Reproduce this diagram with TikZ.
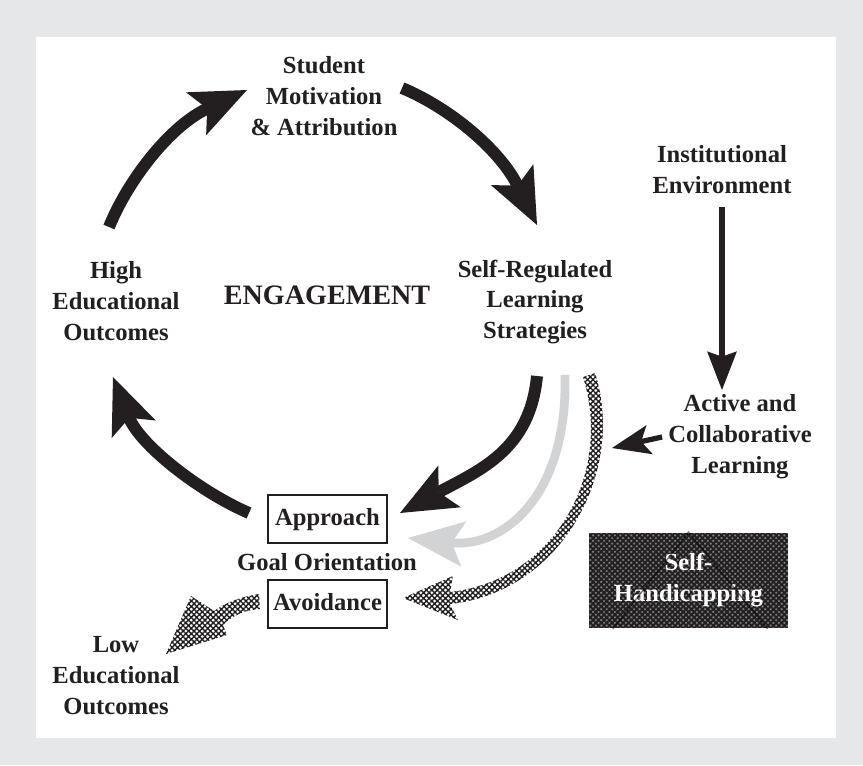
\documentclass[tikz,border=0pt]{standalone}
\usepackage{fontspec}
\setmainfont{Liberation Serif}
\usetikzlibrary{arrows.meta,patterns.meta}
\definecolor{ink}{HTML}{231F20}
\definecolor{panel}{HTML}{E6E7E8}
\definecolor{lightarrow}{HTML}{D1D3D4}
\tikzset{
  lbl/.style={font=\fontsize{14}{17.6}\selectfont\bfseries, text=ink, align=center},
  goalbox/.style={lbl, draw=ink, line width=1.1pt, minimum width=68pt, minimum height=27pt,
    text height=10pt, text depth=3pt, inner sep=0pt},
  selfbox/.style={lbl, text=white, minimum width=113pt, minimum height=54pt, inner sep=0pt,
    preaction={fill=black!50}, pattern={Hatch[angle=45,distance=2.2pt,line width=1.1pt]},
    pattern color=ink},
  bigarrow/.style={ink, line width=6.8pt, -{Stealth[length=32pt,width=27pt,inset=7pt,line width=0pt]}},
  greyarrow/.style={lightarrow, line width=5pt, -{Stealth[length=32pt,width=26pt,inset=7pt,line width=0pt]}},
  vertarrow/.style={ink, line width=3.2pt, -{Stealth[length=22pt,width=17pt,inset=3pt,line width=0pt]}},
  shortarrow/.style={ink, line width=3pt, -{Stealth[length=22pt,width=17pt,inset=5pt,line width=0pt]}},
  hatchfill/.style={pattern={Hatch[angle=45,distance=2.2pt,line width=0.8pt]}, pattern color=ink},
}
\begin{document}
\begin{tikzpicture}[x=0.02cm, y=-0.02cm]
\useasboundingbox (0,0) rectangle (863,765);
\fill[panel] (0,0) rectangle (863,765);
\fill[white] (36,37) rectangle (836,738);

\node[lbl] (smat) at (324,96) {Student\\Motivation\\\& Attribution};
\node[lbl] (inst) at (722,170) {Institutional\\Environment};
\node[lbl] (srl) at (535,302) {Self-Regulated\\Learning\\Strategies};
\node[lbl] (high) at (116,301) {High\\Educational\\Outcomes};
\node[lbl, font=\fontsize{16}{19}\selectfont\bfseries] (eng) at (327,295) {ENGAGEMENT};
\node[lbl] (acl) at (740,437) {Active and\\Collaborative\\Learning};
\node[goalbox] (appr) at (327.5,519) {Approach};
\node[lbl] (goal) at (327,562) {Goal Orientation};
\node[goalbox] (avoid) at (327.5,604) {Avoidance};
\node[lbl] (low) at (116,676) {Low\\Educational\\Outcomes};
\node[selfbox] (selfh) at (688.5,580.5) {Self-\\Handicapping};
\draw[black, opacity=0.5, line width=0.8pt] ([xshift=14pt]selfh.south west) -- (selfh.north)
  -- ([xshift=-12pt]selfh.south east);

\coordinate (hi2sm) at (109,227);
\coordinate (sm) at (247,90);
\coordinate (sm2sr) at (402,88);
\coordinate (sr) at (537,225);
\coordinate (sr2ap) at (537,376);
\coordinate (ap) at (400,513);
\coordinate (sr2gy) at (565,375);
\coordinate (gy) at (408,538);
\coordinate (ap2hi) at (249,513);
\coordinate (hi) at (113,377);
\coordinate (ie) at (722,390);
\coordinate (al) at (612,448);

\draw[bigarrow] (hi2sm) .. controls (128,180) and (170,126) .. (sm);
\draw[bigarrow] (sm2sr) .. controls (450,108) and (500,150) .. (sr);
\draw[bigarrow] (sr2ap) .. controls (530,450) and (480,470) .. (ap);
\draw[bigarrow] (ap2hi) .. controls (200,492) and (140,445) .. (hi);
\draw[greyarrow] (sr2gy) .. controls (568,500) and (500,548) .. (gy);
\draw[vertarrow, shorten <=4pt] (inst.south) -- (ie);
\draw[shortarrow] (acl.west) -- (al);

\fill[hatchfill] (595,373) .. controls (626,468) and (564,592) .. (450,604)
  -- (458,620) -- (403,598) -- (453,576) -- (450,592)
  .. controls (556,580) and (613,472) .. (583,377) -- cycle;
\fill[hatchfill] (259,594) .. controls (240,597) and (225,603) .. (214,611)
  -- (191,596) -- (166,654) -- (227,635) -- (223,625)
  .. controls (233,615) and (245,610) .. (260,609) -- cycle;
\end{tikzpicture}
\end{document}
